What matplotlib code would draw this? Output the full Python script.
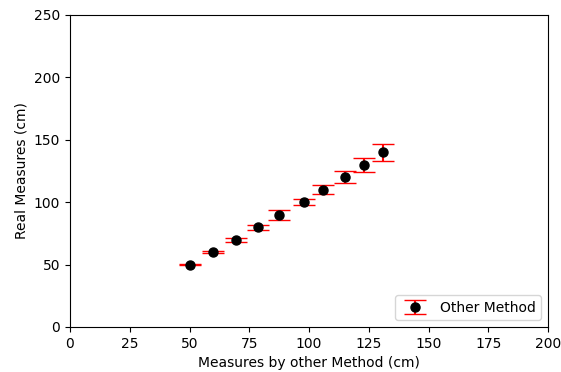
import numpy as np
import matplotlib.pyplot as plt

other = [50.2, 59.8, 69.5, 78.7, 87.4, 97.9, 105.9, 115.0, 123.0, 131.0]
real = [50, 60, 70, 80, 90, 100, 110, 120, 130, 140]
err = [0.5, 1.0, 1.6, 2.1, 4.0, 2.4, 3.4, 4.8, 5.6, 6.8]

fig = plt.figure(figsize=(5.61, 3.72), dpi=100)
ax = fig.add_axes([70/561, 45/372, 478/561, 312/372])

line, caps, bars = ax.errorbar(other, real, yerr=err, fmt='o', color='black',
                               ecolor='red', capsize=8, markersize=6.5,
                               label='Other Method')
for c in caps:
    c.set_color('red')
    c.set_markeredgecolor('red')
ax.set_xlim(0, 200)
ax.set_ylim(0, 250)
ax.set_xticks(np.arange(0, 201, 25))
ax.set_yticks(np.arange(0, 251, 50))
ax.set_xlabel('Measures by other Method (cm)')
ax.set_ylabel('Real Measures (cm)')
ax.legend(loc='lower right')

fig.savefig('out.png', dpi=100)
